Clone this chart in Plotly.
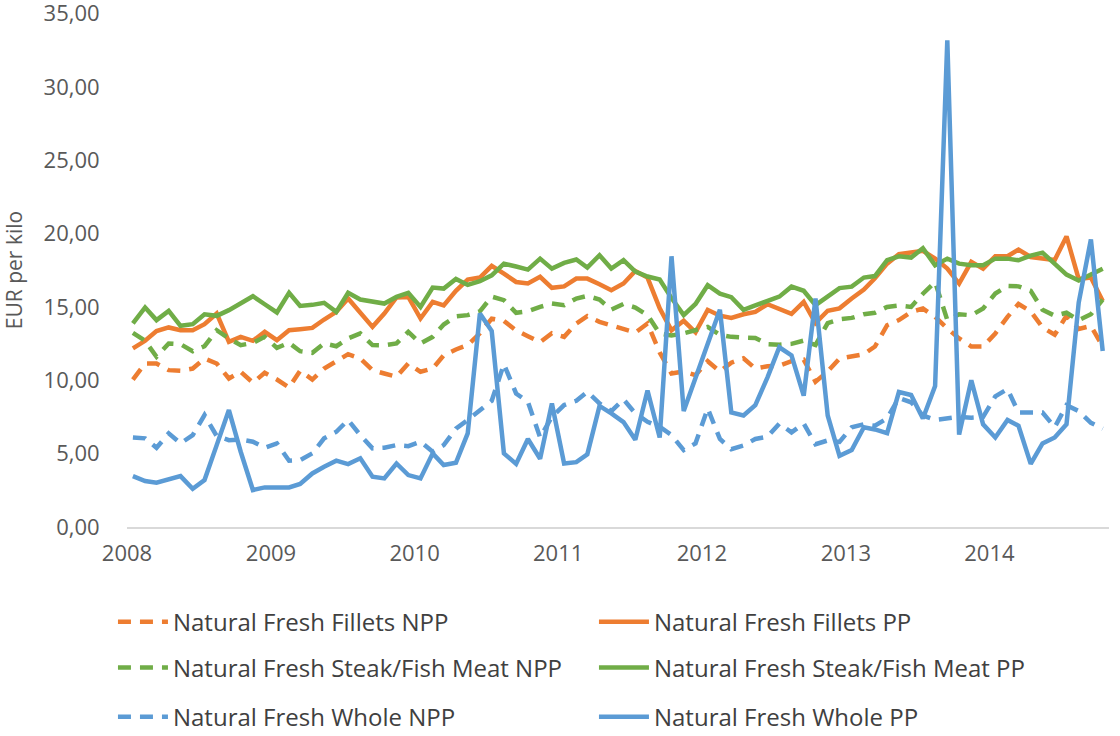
import plotly.graph_objects as go

# Monthly observations Jan 2008 .. Oct 2014 (82 months), plotted mid-month
months = [f"{2008 + k // 12}-{k % 12 + 1:02d}-16" for k in range(82)]
year_ticks = ["2008", "2009", "2010", "2011", "2012", "2013", "2014"]
y_ticks = [0, 5, 10, 15, 20, 25, 30, 35]

fillets_npp = [10.05, 11.14, 11.14, 10.69, 10.65, 10.8, 11.48, 11.14, 10.12, 10.58, 9.83, 10.51,
               10.05, 9.51, 10.65, 10.05, 10.8, 11.26, 11.78, 11.48, 10.69, 10.46, 10.24, 11.14,
               10.58, 10.8, 11.7, 12.1, 12.4, 13.2, 14.2, 14.05, 13.4, 13.0, 12.6, 13.2,
               12.96, 13.87, 14.37, 13.98, 13.75, 13.45, 13.25, 13.87, 11.9, 10.46, 10.6, 10.35,
               11.3, 10.6, 11.2, 11.5, 10.8, 10.95, 11.0, 11.3, 11.4, 9.9, 10.6, 11.48,
               11.65, 11.78, 12.3, 13.75, 14.1, 14.66, 14.89, 14.32, 13.53, 12.85, 12.3, 12.3,
               13.19, 14.32, 15.2, 14.7, 13.6, 13.1, 14.4, 13.5, 13.7, 12.3]
fillets_pp = [12.17, 12.69, 13.35, 13.6, 13.41, 13.41, 13.82, 14.55, 12.62, 12.96, 12.69, 13.3,
              12.73, 13.41, 13.48, 13.57, 14.14, 14.66, 15.57, 14.55, 13.64, 14.55, 15.64, 15.68,
              14.21, 15.34, 15.1, 16.1, 16.86, 17.0, 17.8, 17.27, 16.7, 16.6, 17.05, 16.3,
              16.4, 16.93, 16.93, 16.55, 16.14, 16.6, 17.45, 17.0, 14.9, 13.4, 14.05, 13.27,
              14.8, 14.4, 14.25, 14.5, 14.66, 15.18, 14.82, 14.53, 15.34, 13.9, 14.74, 14.9,
              15.57, 16.18, 16.95, 17.95, 18.59, 18.68, 18.82, 18.29, 17.61, 16.59, 18.07, 17.61,
              18.45, 18.45, 18.9, 18.4, 18.3, 18.2, 19.8, 16.9, 17.0, 15.4]
steak_npp = [13.23, 12.69, 11.6, 12.51, 12.46, 11.98, 12.32, 13.41, 12.85, 12.39, 12.55, 12.96,
             12.21, 12.55, 11.98, 11.87, 12.51, 12.32, 12.85, 13.19, 12.4, 12.39, 12.51, 13.3,
             12.51, 12.96, 13.8, 14.35, 14.44, 14.7, 15.7, 15.46, 14.6, 14.7, 15.0, 15.23,
             15.11, 15.57, 15.75, 15.5, 14.82, 15.2, 14.96, 14.44, 13.19, 13.05, 13.2, 13.4,
             13.64, 13.1, 12.96, 12.91, 12.88, 12.46, 12.42, 12.48, 12.7, 12.4, 13.9, 14.15,
             14.25, 14.5, 14.6, 15.0, 15.1, 15.0, 15.9, 16.7, 14.1, 14.5, 14.43, 14.89,
             15.91, 16.43, 16.4, 16.1, 14.8, 14.4, 14.6, 14.1, 14.5, 15.5]
steak_pp = [13.87, 14.96, 14.1, 14.73, 13.71, 13.82, 14.5, 14.39, 14.78, 15.28, 15.73, 15.18,
            14.62, 15.96, 15.07, 15.14, 15.28, 14.66, 15.96, 15.5, 15.34, 15.23, 15.68, 15.96,
            15.0, 16.32, 16.25, 16.9, 16.5, 16.75, 17.15, 17.95, 17.75, 17.54, 18.29, 17.61,
            18.0, 18.23, 17.68, 18.52, 17.61, 18.18, 17.4, 17.07, 16.87, 15.6, 14.44, 15.2,
            16.48, 15.9, 15.66, 14.8, 15.1, 15.43, 15.7, 16.38, 16.1, 15.12, 15.7, 16.28,
            16.38, 17.0, 17.1, 18.18, 18.45, 18.36, 19.0, 17.84, 18.29, 17.95, 17.84, 17.84,
            18.29, 18.29, 18.18, 18.5, 18.7, 17.9, 17.2, 16.8, 17.2, 17.6]
whole_npp = [6.1, 6.04, 5.4, 6.38, 5.7, 6.26, 7.63, 6.2, 5.92, 5.96, 5.81, 5.4,
             5.7, 4.52, 4.56, 5.02, 6.04, 6.49, 7.29, 6.26, 5.36, 5.4, 5.58, 5.51,
             5.81, 5.13, 5.58, 6.7, 7.29, 7.97, 8.6, 11.1, 9.1, 8.53, 6.1, 7.5,
             8.31, 8.6, 9.21, 8.42, 7.9, 8.7, 7.74, 7.17, 6.83, 6.26, 5.24, 5.7,
             8.08, 6.0, 5.3, 5.55, 6.0, 6.15, 7.05, 6.45, 7.06, 5.64, 5.9, 5.8,
             6.8, 7.0, 6.9, 7.4, 8.8, 8.5, 7.6, 7.3, 7.4, 7.5, 7.45, 7.5,
             8.9, 9.4, 7.8, 7.8, 7.8, 6.8, 8.3, 7.9, 7.1, 6.7]
whole_pp = [3.47, 3.13, 3.02, 3.25, 3.47, 2.6, 3.2, 5.58, 7.97, 5.13, 2.52, 2.7,
            2.7, 2.7, 2.93, 3.65, 4.11, 4.52, 4.29, 4.68, 3.43, 3.31, 4.33, 3.54,
            3.31, 5.02, 4.22, 4.38, 6.38, 14.55, 13.35, 5.02, 4.3, 6.0, 4.65, 8.42,
            4.33, 4.42, 4.95, 8.25, 7.74, 7.15, 5.95, 9.3, 6.1, 18.45, 7.9, 10.2,
            12.5, 14.8, 7.8, 7.6, 8.31, 10.2, 12.25, 11.7, 8.95, 15.57, 7.6, 4.85,
            5.25, 6.8, 6.65, 6.4, 9.2, 9.0, 7.4, 9.6, 33.16, 6.3, 10.0, 7.0,
            6.1, 7.3, 6.9, 4.3, 5.7, 6.1, 7.0, 15.3, 19.6, 12.0]

ORANGE = "#ED7D31"
GREEN = "#70AD47"
BLUE = "#5B9BD5"
DASH = "13px,9px"
LW = 4.5

series = [
    ("Natural Fresh Fillets NPP", fillets_npp, ORANGE, DASH, "legend"),
    ("Natural Fresh Fillets PP", fillets_pp, ORANGE, "solid", "legend"),
    ("Natural Fresh Steak/Fish Meat NPP", steak_npp, GREEN, DASH, "legend2"),
    ("Natural Fresh Steak/Fish Meat PP", steak_pp, GREEN, "solid", "legend2"),
    ("Natural Fresh Whole NPP", whole_npp, BLUE, DASH, "legend3"),
    ("Natural Fresh Whole PP", whole_pp, BLUE, "solid", "legend3"),
]

fig = go.Figure()
for name, vals, color, dash, leg in series:
    fig.add_trace(go.Scatter(
        x=months, y=vals, name=name, mode="lines",
        line=dict(color=color, width=LW, dash=dash),
        legend=leg,
    ))

FONT = "Open Sans, DejaVu Sans, sans-serif"
leg_common = dict(
    orientation="h", xanchor="left", yanchor="middle", x=-0.0143,
    entrywidth=416, entrywidthmode="pixels",
    font=dict(family=FONT, size=24, color="#404040"),
    bgcolor="rgba(0,0,0,0)", itemwidth=50,
)

fig.update_layout(
    width=1120, height=736,
    margin=dict(l=127, r=11, t=13, b=209, autoexpand=False),
    paper_bgcolor="white", plot_bgcolor="white",
    separators=", ",
    font=dict(family=FONT, size=22, color="#595959"),
    showlegend=True,
    legend=dict(**leg_common, y=-0.185),
    legend2=dict(**leg_common, y=-0.274),
    legend3=dict(**leg_common, y=-0.37),
    xaxis=dict(
        type="date", automargin=False,
        range=["2008-01-01", "2014-11-01"],
        tickvals=[f"{y}-01-01" for y in year_ticks],
        ticktext=year_ticks,
        showgrid=False, zeroline=False,
        showline=True, linecolor="#D9D9D9", linewidth=1.5,
        ticks="outside", ticklen=6, tickcolor="rgba(0,0,0,0)",
        tickfont=dict(family=FONT, size=22, color="#595959"),
    ),
    yaxis=dict(
        automargin=False,
        range=[0, 35.03], tickvals=y_ticks, tickformat=".2f",
        ticklabeloverflow="allow",
        showgrid=False, zeroline=False, showline=False,
        ticks="outside", ticklen=22, tickcolor="rgba(0,0,0,0)",
        tickfont=dict(family=FONT, size=22, color="#595959"),
        title=dict(text="EUR per kilo", font=dict(family=FONT, size=21, color="#595959"), standoff=16),
    ),
)

fig.write_html("out.html", config={"displayModeBar": False},
               post_script="document.body.style.margin='0px';")
